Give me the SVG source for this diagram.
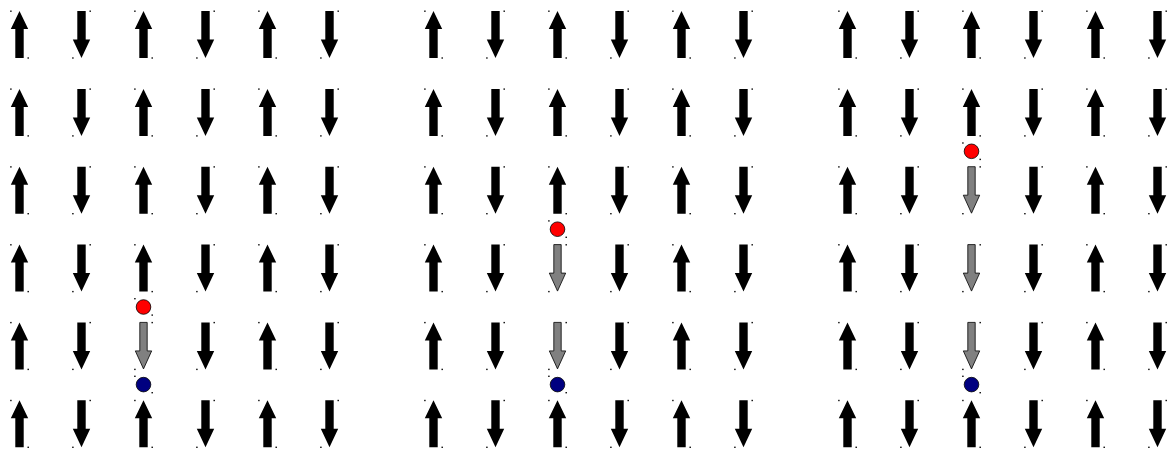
<svg xmlns="http://www.w3.org/2000/svg" xmlns:xlink="http://www.w3.org/1999/xlink" width="1175" height="453" viewBox="0 0 1175 453">
<style>
.blk{fill:#000}
.gry{fill:#808080;stroke:#000;stroke-width:0.8}
.dot{fill:#000}
.red{fill:#ff0000;stroke:#000;stroke-width:0.8}
.blue{fill:#000080;stroke:#000;stroke-width:0.8}
</style>
<defs>
<path id="upShape" d="M0,-23.5 L8.7,-5.5 L4.2,-5.5 L4.2,23.5 L-4.2,23.5 L-4.2,-5.5 L-8.7,-5.5 Z"/>
<path id="downShape" d="M0,23.5 L8.7,5 L4.2,5 L4.2,-23.5 L-4.2,-23.5 L-4.2,5 L-8.7,5 Z"/>
<g id="U"><use href="#upShape" class="blk"/><rect class="dot" x="-9.3" y="-24" width="1.4" height="1.4"/><rect class="dot" x="8" y="22.8" width="1.4" height="1.4"/></g>
<g id="D"><use href="#downShape" class="blk"/><rect class="dot" x="8" y="-24" width="1.4" height="1.4"/><rect class="dot" x="-9.3" y="22.8" width="1.4" height="1.4"/></g>
<g id="G"><path class="gry" d="M0,23 L8.2,5 L3.7,5 L3.7,-23.5 L-3.7,-23.5 L-3.7,5 L-8.2,5 Z"/><rect class="dot" x="8" y="-24" width="1.4" height="1.4"/><rect class="dot" x="-9.3" y="22.8" width="1.4" height="1.4"/></g>
<g id="R"><circle class="red" r="7.3"/><rect class="dot" x="-9.3" y="-9" width="1.4" height="1.4"/><rect class="dot" x="8" y="7.4" width="1.4" height="1.4"/></g>
<g id="B"><circle class="blue" r="7.3"/><rect class="dot" x="-9.3" y="-9" width="1.4" height="1.4"/><rect class="dot" x="8" y="7.4" width="1.4" height="1.4"/></g>
</defs>
<rect width="1175" height="453" fill="#fff"/>
<g id="connectors"></g>
<g id="panel1">
<g id="p1r1c1"><use href="#U" x="19.5" y="34.5"/></g><g id="p1r1c2"><use href="#D" x="81.5" y="34.5"/></g><g id="p1r1c3"><use href="#U" x="143.5" y="34.5"/></g><g id="p1r1c4"><use href="#D" x="205.5" y="34.5"/></g><g id="p1r1c5"><use href="#U" x="267.5" y="34.5"/></g><g id="p1r1c6"><use href="#D" x="329.5" y="34.5"/></g>
<g id="p1r2c1"><use href="#U" x="19.5" y="112.4"/></g><g id="p1r2c2"><use href="#D" x="81.5" y="112.4"/></g><g id="p1r2c3"><use href="#U" x="143.5" y="112.4"/></g><g id="p1r2c4"><use href="#D" x="205.5" y="112.4"/></g><g id="p1r2c5"><use href="#U" x="267.5" y="112.4"/></g><g id="p1r2c6"><use href="#D" x="329.5" y="112.4"/></g>
<g id="p1r3c1"><use href="#U" x="19.5" y="190.2"/></g><g id="p1r3c2"><use href="#D" x="81.5" y="190.2"/></g><g id="p1r3c3"><use href="#U" x="143.5" y="190.2"/></g><g id="p1r3c4"><use href="#D" x="205.5" y="190.2"/></g><g id="p1r3c5"><use href="#U" x="267.5" y="190.2"/></g><g id="p1r3c6"><use href="#D" x="329.5" y="190.2"/></g>
<g id="p1r4c1"><use href="#U" x="19.5" y="268.1"/></g><g id="p1r4c2"><use href="#D" x="81.5" y="268.1"/></g><g id="p1r4c3"><use href="#U" x="143.5" y="268.1"/></g><g id="p1r4c4"><use href="#D" x="205.5" y="268.1"/></g><g id="p1r4c5"><use href="#U" x="267.5" y="268.1"/></g><g id="p1r4c6"><use href="#D" x="329.5" y="268.1"/></g>
<g id="p1r5c1"><use href="#U" x="19.5" y="345.9"/></g><g id="p1r5c2"><use href="#D" x="81.5" y="345.9"/></g><g id="p1r5c3"><use href="#G" x="143.5" y="345.9"/></g><g id="p1r5c4"><use href="#D" x="205.5" y="345.9"/></g><g id="p1r5c5"><use href="#U" x="267.5" y="345.9"/></g><g id="p1r5c6"><use href="#D" x="329.5" y="345.9"/></g>
<g id="p1r6c1"><use href="#U" x="19.5" y="423.8"/></g><g id="p1r6c2"><use href="#D" x="81.5" y="423.8"/></g><g id="p1r6c3"><use href="#U" x="143.5" y="423.8"/></g><g id="p1r6c4"><use href="#D" x="205.5" y="423.8"/></g><g id="p1r6c5"><use href="#U" x="267.5" y="423.8"/></g><g id="p1r6c6"><use href="#D" x="329.5" y="423.8"/></g>
<g id="p1red"><use href="#R" x="143.5" y="307"/></g>
<g id="p1blue"><use href="#B" x="143.5" y="384.6"/></g>
</g>
<g id="panel2">
<g id="p2r1c1"><use href="#U" x="433.5" y="34.5"/></g><g id="p2r1c2"><use href="#D" x="495.5" y="34.5"/></g><g id="p2r1c3"><use href="#U" x="557.5" y="34.5"/></g><g id="p2r1c4"><use href="#D" x="619.5" y="34.5"/></g><g id="p2r1c5"><use href="#U" x="681.5" y="34.5"/></g><g id="p2r1c6"><use href="#D" x="743.5" y="34.5"/></g>
<g id="p2r2c1"><use href="#U" x="433.5" y="112.4"/></g><g id="p2r2c2"><use href="#D" x="495.5" y="112.4"/></g><g id="p2r2c3"><use href="#U" x="557.5" y="112.4"/></g><g id="p2r2c4"><use href="#D" x="619.5" y="112.4"/></g><g id="p2r2c5"><use href="#U" x="681.5" y="112.4"/></g><g id="p2r2c6"><use href="#D" x="743.5" y="112.4"/></g>
<g id="p2r3c1"><use href="#U" x="433.5" y="190.2"/></g><g id="p2r3c2"><use href="#D" x="495.5" y="190.2"/></g><g id="p2r3c3"><use href="#U" x="557.5" y="190.2"/></g><g id="p2r3c4"><use href="#D" x="619.5" y="190.2"/></g><g id="p2r3c5"><use href="#U" x="681.5" y="190.2"/></g><g id="p2r3c6"><use href="#D" x="743.5" y="190.2"/></g>
<g id="p2r4c1"><use href="#U" x="433.5" y="268.1"/></g><g id="p2r4c2"><use href="#D" x="495.5" y="268.1"/></g><g id="p2r4c3"><use href="#G" x="557.5" y="268.1"/></g><g id="p2r4c4"><use href="#D" x="619.5" y="268.1"/></g><g id="p2r4c5"><use href="#U" x="681.5" y="268.1"/></g><g id="p2r4c6"><use href="#D" x="743.5" y="268.1"/></g>
<g id="p2r5c1"><use href="#U" x="433.5" y="345.9"/></g><g id="p2r5c2"><use href="#D" x="495.5" y="345.9"/></g><g id="p2r5c3"><use href="#G" x="557.5" y="345.9"/></g><g id="p2r5c4"><use href="#D" x="619.5" y="345.9"/></g><g id="p2r5c5"><use href="#U" x="681.5" y="345.9"/></g><g id="p2r5c6"><use href="#D" x="743.5" y="345.9"/></g>
<g id="p2r6c1"><use href="#U" x="433.5" y="423.8"/></g><g id="p2r6c2"><use href="#D" x="495.5" y="423.8"/></g><g id="p2r6c3"><use href="#U" x="557.5" y="423.8"/></g><g id="p2r6c4"><use href="#D" x="619.5" y="423.8"/></g><g id="p2r6c5"><use href="#U" x="681.5" y="423.8"/></g><g id="p2r6c6"><use href="#D" x="743.5" y="423.8"/></g>
<g id="p2red"><use href="#R" x="557.5" y="229.2"/></g>
<g id="p2blue"><use href="#B" x="557.5" y="384.6"/></g>
</g>
<g id="panel3">
<g id="p3r1c1"><use href="#U" x="847.5" y="34.5"/></g><g id="p3r1c2"><use href="#D" x="909.5" y="34.5"/></g><g id="p3r1c3"><use href="#U" x="971.5" y="34.5"/></g><g id="p3r1c4"><use href="#D" x="1033.5" y="34.5"/></g><g id="p3r1c5"><use href="#U" x="1095.5" y="34.5"/></g><g id="p3r1c6"><use href="#D" x="1157.5" y="34.5"/></g>
<g id="p3r2c1"><use href="#U" x="847.5" y="112.4"/></g><g id="p3r2c2"><use href="#D" x="909.5" y="112.4"/></g><g id="p3r2c3"><use href="#U" x="971.5" y="112.4"/></g><g id="p3r2c4"><use href="#D" x="1033.5" y="112.4"/></g><g id="p3r2c5"><use href="#U" x="1095.5" y="112.4"/></g><g id="p3r2c6"><use href="#D" x="1157.5" y="112.4"/></g>
<g id="p3r3c1"><use href="#U" x="847.5" y="190.2"/></g><g id="p3r3c2"><use href="#D" x="909.5" y="190.2"/></g><g id="p3r3c3"><use href="#G" x="971.5" y="190.2"/></g><g id="p3r3c4"><use href="#D" x="1033.5" y="190.2"/></g><g id="p3r3c5"><use href="#U" x="1095.5" y="190.2"/></g><g id="p3r3c6"><use href="#D" x="1157.5" y="190.2"/></g>
<g id="p3r4c1"><use href="#U" x="847.5" y="268.1"/></g><g id="p3r4c2"><use href="#D" x="909.5" y="268.1"/></g><g id="p3r4c3"><use href="#G" x="971.5" y="268.1"/></g><g id="p3r4c4"><use href="#D" x="1033.5" y="268.1"/></g><g id="p3r4c5"><use href="#U" x="1095.5" y="268.1"/></g><g id="p3r4c6"><use href="#D" x="1157.5" y="268.1"/></g>
<g id="p3r5c1"><use href="#U" x="847.5" y="345.9"/></g><g id="p3r5c2"><use href="#D" x="909.5" y="345.9"/></g><g id="p3r5c3"><use href="#G" x="971.5" y="345.9"/></g><g id="p3r5c4"><use href="#D" x="1033.5" y="345.9"/></g><g id="p3r5c5"><use href="#U" x="1095.5" y="345.9"/></g><g id="p3r5c6"><use href="#D" x="1157.5" y="345.9"/></g>
<g id="p3r6c1"><use href="#U" x="847.5" y="423.8"/></g><g id="p3r6c2"><use href="#D" x="909.5" y="423.8"/></g><g id="p3r6c3"><use href="#U" x="971.5" y="423.8"/></g><g id="p3r6c4"><use href="#D" x="1033.5" y="423.8"/></g><g id="p3r6c5"><use href="#U" x="1095.5" y="423.8"/></g><g id="p3r6c6"><use href="#D" x="1157.5" y="423.8"/></g>
<g id="p3red"><use href="#R" x="971.5" y="151.3"/></g>
<g id="p3blue"><use href="#B" x="971.5" y="384.6"/></g>
</g>
</svg>
